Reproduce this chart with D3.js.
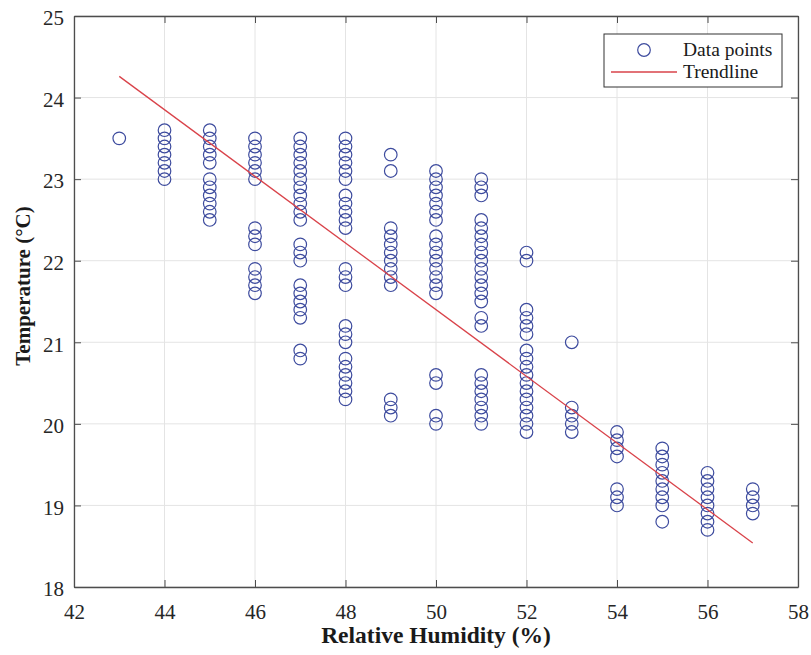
<!DOCTYPE html>
<html>
<head>
<meta charset="utf-8">
<script src="https://cdn.jsdelivr.net/npm/d3@7"></script>
<style>
  body { margin: 0; background: #fff; }
  text { font-family: 'Liberation Serif', 'Times New Roman', serif; }
</style>
</head>
<body>
<div id="chart"></div>
<script>
// data
const humidityLevels = [43, 44, 45, 46, 47, 48, 49, 50, 51, 52, 53, 54, 55, 56, 57]
const tempsByHumidity = [
  [23.5],
  [23.0, 23.1, 23.2, 23.3, 23.4, 23.5, 23.6],
  [22.5, 22.6, 22.7, 22.8, 22.9, 23.0, 23.2, 23.3, 23.4, 23.5, 23.6],
  [21.6, 21.7, 21.8, 21.9, 22.2, 22.3, 22.4, 23.0, 23.1, 23.2, 23.3, 23.4, 23.5],
  [20.8, 20.9, 21.3, 21.4, 21.5, 21.6, 21.7, 22.0, 22.1, 22.2, 22.5, 22.6, 22.7, 22.8, 22.9, 23.0, 23.1, 23.2, 23.3, 23.4, 23.5],
  [20.3, 20.4, 20.5, 20.6, 20.7, 20.8, 21.0, 21.1, 21.2, 21.7, 21.8, 21.9, 22.4, 22.5, 22.6, 22.7, 22.8, 23.0, 23.1, 23.2, 23.3, 23.4, 23.5],
  [20.1, 20.2, 20.3, 21.7, 21.8, 21.9, 22.0, 22.1, 22.2, 22.3, 22.4, 23.1, 23.3],
  [20.0, 20.1, 20.5, 20.6, 21.6, 21.7, 21.8, 21.9, 22.0, 22.1, 22.2, 22.3, 22.5, 22.6, 22.7, 22.8, 22.9, 23.0, 23.1],
  [20.0, 20.1, 20.2, 20.3, 20.4, 20.5, 20.6, 21.2, 21.3, 21.5, 21.6, 21.7, 21.8, 21.9, 22.0, 22.1, 22.2, 22.3, 22.4, 22.5, 22.8, 22.9, 23.0],
  [19.9, 20.0, 20.1, 20.2, 20.3, 20.4, 20.5, 20.6, 20.7, 20.8, 20.9, 21.1, 21.2, 21.3, 21.4, 22.0, 22.1],
  [19.9, 20.0, 20.1, 20.2, 21.0],
  [19.0, 19.1, 19.2, 19.6, 19.7, 19.8, 19.9],
  [18.8, 19.0, 19.1, 19.2, 19.3, 19.4, 19.5, 19.6, 19.7],
  [18.7, 18.8, 18.9, 19.0, 19.1, 19.2, 19.3, 19.4],
  [18.9, 19.0, 19.1, 19.2]
]
const trendX = [43, 57]
const trendY = [24.26, 18.54]
const xTicks = [42, 44, 46, 48, 50, 52, 54, 56, 58]
const yTicks = [18, 19, 20, 21, 22, 23, 24, 25]

const points = []
humidityLevels.forEach((h, i) => {
  tempsByHumidity[i].forEach(t => points.push({ h: h, t: t }))
})

const width = 811
const height = 655
const margin = { top: 16, left: 74, right: 13, bottom: 68 }
const innerW = width - margin.left - margin.right
const innerH = height - margin.top - margin.bottom
const serif = "'Liberation Serif', 'Times New Roman', serif"

const svg = d3
  .select('#chart')
  .append('svg')
  .attr('width', width)
  .attr('height', height)

const g = svg
  .append('g')
  .attr('transform', 'translate(' + margin.left + ',' + margin.top + ')')

const x = d3.scaleLinear().domain([42, 58]).range([0, innerW])
const y = d3.scaleLinear().domain([18, 25]).range([innerH, 0])

// grid
g.append('g')
  .selectAll('line')
  .data(xTicks)
  .enter()
  .append('line')
  .attr('x1', d => x(d))
  .attr('x2', d => x(d))
  .attr('y1', 0)
  .attr('y2', innerH)
  .attr('stroke', '#e4e4e4')
g.append('g')
  .selectAll('line')
  .data(yTicks)
  .enter()
  .append('line')
  .attr('x1', 0)
  .attr('x2', innerW)
  .attr('y1', d => y(d))
  .attr('y2', d => y(d))
  .attr('stroke', '#e4e4e4')

// axes, ticks inside on all four sides
const axisColor = '#4d4d4d'
const tickLen = 7
const fmt = d3.format('d')
const axes = [
  { axis: d3.axisBottom(x).tickValues(xTicks), t: [0, innerH], labels: true, side: 'bottom' },
  { axis: d3.axisTop(x).tickValues(xTicks), t: [0, 0], labels: false },
  { axis: d3.axisLeft(y).tickValues(yTicks), t: [0, 0], labels: true, side: 'left' },
  { axis: d3.axisRight(y).tickValues(yTicks), t: [innerW, 0], labels: false }
]
axes.forEach(a => {
  a.axis
    .tickSizeInner(-tickLen)
    .tickSizeOuter(0)
    .tickFormat(fmt)
  const ag = g
    .append('g')
    .attr('transform', 'translate(' + a.t[0] + ',' + a.t[1] + ')')
    .attr('font-family', serif)
    .attr('font-size', 21)
    .call(a.axis)
  ag.select('.domain').attr('stroke', axisColor).attr('stroke-width', 1.3)
  ag.selectAll('.tick line').attr('stroke', axisColor)
  ag.selectAll('.tick text')
    .attr('fill', '#262626')
    .style('font-family', serif)
    .style('font-size', '21px')
  if (!a.labels) ag.selectAll('.tick text').remove()
  if (a.side === 'bottom') ag.selectAll('.tick text').attr('y', 17)
  if (a.side === 'left') ag.selectAll('.tick text').attr('x', -10).attr('dy', '0.42em')
})

// data points
g.append('g')
  .selectAll('circle')
  .data(points)
  .enter()
  .append('circle')
  .attr('cx', d => x(d.h))
  .attr('cy', d => y(d.t))
  .attr('r', 6.3)
  .attr('fill', 'none')
  .attr('stroke', '#3d4b9e')
  .attr('stroke-width', 1.2)

// trendline
g.append('path')
  .datum(trendX.map((v, i) => [v, trendY[i]]))
  .attr('d', d3.line().x(d => x(d[0])).y(d => y(d[1])))
  .attr('fill', 'none')
  .attr('stroke', '#d9434a')
  .attr('stroke-width', 1.3)

// axis labels
svg
  .append('text')
  .attr('x', margin.left + innerW / 2)
  .attr('y', 643)
  .attr('text-anchor', 'middle')
  .style('font-weight', 700)
  .style('font-size', '23.5px')
  .attr('fill', '#1a1a1a')
  .text('Relative Humidity (%)')
svg
  .append('text')
  .attr('transform', 'translate(30,286) rotate(-90)')
  .attr('text-anchor', 'middle')
  .style('font-weight', 700)
  .style('font-size', '21px')
  .attr('fill', '#1a1a1a')
  .text('Temperature (°C)')

// legend
const legend = svg.append('g').attr('transform', 'translate(604,34)')
legend
  .append('rect')
  .attr('width', 178)
  .attr('height', 53)
  .attr('fill', '#fff')
  .attr('stroke', '#333')
  .attr('stroke-width', 1)
legend
  .append('circle')
  .attr('cx', 40)
  .attr('cy', 16)
  .attr('r', 6.3)
  .attr('fill', 'none')
  .attr('stroke', '#3d4b9e')
  .attr('stroke-width', 1.2)
legend
  .append('line')
  .attr('x1', 7)
  .attr('x2', 73)
  .attr('y1', 38)
  .attr('y2', 38)
  .attr('stroke', '#d9434a')
  .attr('stroke-width', 1.3)
legend
  .append('text')
  .attr('x', 79)
  .attr('y', 22)
  .style('font-size', '19.5px')
  .attr('fill', '#1a1a1a')
  .text('Data points')
legend
  .append('text')
  .attr('x', 79)
  .attr('y', 44)
  .style('font-size', '19.5px')
  .attr('fill', '#1a1a1a')
  .text('Trendline')
</script>
</body>
</html>
